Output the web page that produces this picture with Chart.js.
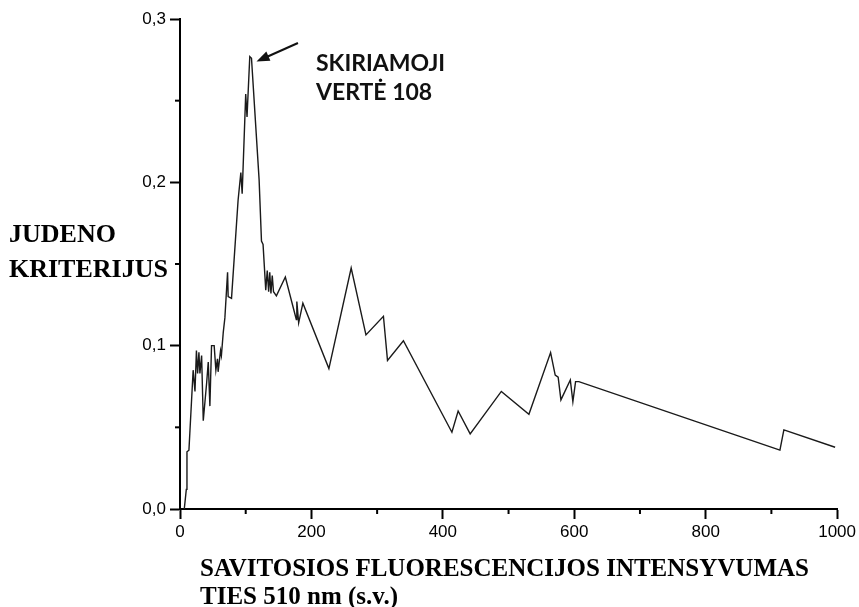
<!DOCTYPE html>
<html>
<head>
<meta charset="utf-8">
<script src="https://cdn.jsdelivr.net/npm/chart.js@4.4.1/dist/chart.umd.min.js"></script>
<style>
  html, body { margin: 0; padding: 0; background: #fff; }
  #wrap { width: 859px; height: 607px; position: relative; }
</style>
</head>
<body>
<div id="wrap"><canvas id="chart"></canvas></div>
<script>
// intensity (x) and Juden criterion (y)
const intensity = [6.5, 9.6, 10.6, 13.6, 20, 22.8, 25, 26.8, 28.8, 30.3, 32.9, 35.4, 40.5, 43, 45.5,
  48, 52, 54.6, 57, 58, 61.7, 63, 65.8, 68.3, 70.8, 72.4, 73.3, 78.4, 88.4, 92.6, 94.6, 100, 102,
  106.2, 108.8, 120.4, 124, 126.4, 130.5, 132.8, 134.9, 136.6, 138.4, 140.4, 142.3, 146.7, 160.3,
  177, 177.8, 180.6, 187, 226.6, 260.5, 283, 309.6, 315.8, 340, 413.8, 423.3, 441.6, 489, 531,
  564, 571, 575.5, 579.7, 594, 597.9, 602, 607, 913, 919, 997];
const criterion = [0, 0.012, 0.035, 0.036, 0.085, 0.072, 0.097, 0.083, 0.096, 0.083, 0.094, 0.054, 0.077, 0.090, 0.063,
  0.100, 0.100, 0.085, 0.092, 0.084, 0.097, 0.094, 0.108, 0.117, 0.134, 0.145, 0.130, 0.129, 0.189, 0.206, 0.193, 0.254, 0.240,
  0.277, 0.276, 0.2015, 0.164, 0.162, 0.134, 0.146, 0.133, 0.145, 0.132, 0.143, 0.133, 0.1305, 0.142,
  0.116, 0.127, 0.114, 0.126, 0.086, 0.1475, 0.1066, 0.118, 0.091, 0.103, 0.047, 0.060, 0.046, 0.072, 0.058,
  0.0958, 0.082, 0.0807, 0.0668, 0.079, 0.0657, 0.078, 0.078, 0.036, 0.0484, 0.0378];

const yTitle = ["JUDENO", "KRITERIJUS"];
const xTitle = ["SAVITOSIOS FLUORESCENCIJOS INTENSYVUMAS", "TIES 510 nm (s.v.)"];
const note = ["SKIRIAMOJI", "VERTĖ 108"];

let points = intensity.map((x, i) => ({ x: x, y: criterion[i] }));

function isMajorY(v) { return Math.round(v * 100) % 10 === 0; }
function isMajorX(v) { return Math.round(v) % 200 === 0; }

// minor ticks, titles and the arrow note
const extras = {
  id: 'extras',
  afterDraw(chart) {
    let c = chart.ctx;
    let xs = chart.scales.x, ys = chart.scales.y;
    let area = chart.chartArea;
    c.save();
    c.strokeStyle = '#000';
    c.lineWidth = 2;
    for (let v = 100; v < 1000; v += 200) {
      let px = xs.getPixelForValue(v);
      c.beginPath(); c.moveTo(px, area.bottom); c.lineTo(px, area.bottom + 5); c.stroke();
    }
    for (let v = 0.05; v < 0.3; v += 0.1) {
      let py = ys.getPixelForValue(v);
      c.beginPath(); c.moveTo(area.left - 5, py); c.lineTo(area.left, py); c.stroke();
    }

    c.fillStyle = '#000';
    c.textAlign = 'left';
    c.textBaseline = 'alphabetic';
    c.font = 'bold 26px "Liberation Serif"';
    c.fillText(yTitle[0], 9, 242);
    c.fillText(yTitle[1], 9, 277);
    c.font = 'bold 25px "Liberation Serif"';
    c.fillText(xTitle[0], 200, 576);
    c.fillText(xTitle[1], 200, 604);

    c.fillStyle = '#111';
    c.font = 'bold 23px Lato';
    c.fillText(note[0], 316, 71);
    c.fillText(note[1], 316, 100);

    // arrow pointing at the peak
    let tx = xs.getPixelForValue(116.4), ty = ys.getPixelForValue(0.274);
    let sx = xs.getPixelForValue(179.5), sy = ys.getPixelForValue(0.2853);
    let ang = Math.atan2(ty - sy, tx - sx);
    c.strokeStyle = '#111';
    c.lineWidth = 2;
    c.beginPath(); c.moveTo(sx, sy); c.lineTo(tx - 8 * Math.cos(ang), ty - 8 * Math.sin(ang)); c.stroke();
    c.fillStyle = '#111';
    c.beginPath();
    c.moveTo(tx, ty);
    c.lineTo(tx - 13 * Math.cos(ang) + 5 * Math.sin(ang), ty - 13 * Math.sin(ang) - 5 * Math.cos(ang));
    c.lineTo(tx - 13 * Math.cos(ang) - 5 * Math.sin(ang), ty - 13 * Math.sin(ang) + 5 * Math.cos(ang));
    c.closePath();
    c.fill();
    c.restore();
  }
};

new Chart(document.getElementById('chart'), {
  type: 'line',
  data: {
    datasets: [{
      data: points,
      borderColor: '#1a1a1a',
      borderWidth: 1.4,
      pointRadius: 0,
      tension: 0,
      fill: false
    }]
  },
  options: {
    responsive: true,
    maintainAspectRatio: false,
    animation: false,
    events: [],
    layout: { padding: { top: 19, right: 20, left: 0, bottom: 0 } },
    plugins: { legend: { display: false }, tooltip: { enabled: false } },
    scales: {
      x: {
        type: 'linear',
        min: 0,
        max: 1000,
        afterFit: s => { s.height = 98; },
        border: { display: true, color: '#000', width: 2 },
        grid: {
          drawOnChartArea: false,
          drawTicks: true,
          tickLength: 10,
          tickWidth: 2,
          tickColor: ctx => isMajorX(ctx.tick.value) ? '#000' : 'rgba(0,0,0,0)'
        },
        ticks: {
          stepSize: 100,
          autoSkip: false,
          maxRotation: 0,
          padding: 3,
          color: '#000',
          font: { family: '"Liberation Sans"', size: 17 },
          callback: v => isMajorX(v) ? String(v) : ''
        }
      },
      y: {
        min: 0,
        max: 0.3,
        afterFit: s => { s.width = 180; },
        border: { display: true, color: '#000', width: 2 },
        grid: {
          drawOnChartArea: false,
          drawTicks: true,
          tickLength: 10,
          tickWidth: 2,
          tickColor: ctx => isMajorY(ctx.tick.value) ? '#000' : 'rgba(0,0,0,0)'
        },
        ticks: {
          stepSize: 0.05,
          autoSkip: false,
          padding: 4,
          color: '#000',
          font: { family: '"Liberation Sans"', size: 17 },
          callback: v => isMajorY(v) ? (Math.round(v * 10) / 10).toFixed(1).replace('.', ',') : ''
        }
      }
    }
  },
  plugins: [extras]
});
</script>
</body>
</html>
